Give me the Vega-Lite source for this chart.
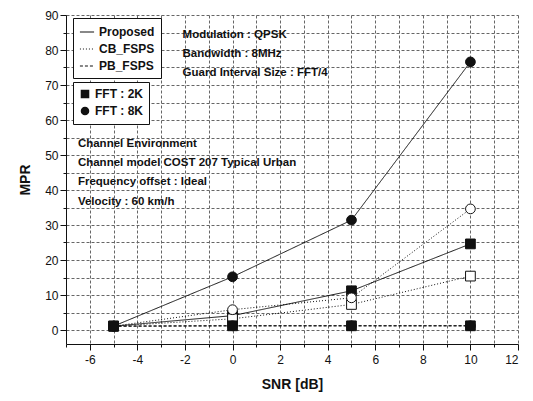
{
  "$schema": "https://vega.github.io/schema/vega-lite/v6.json",
  "width": 452,
  "height": 329,
  "autosize": "none",
  "padding": {"left": 66, "top": 15, "right": 15, "bottom": 57},
  "background": "white",
  "config": {
    "view": {"stroke": null},
    "font": "Liberation Sans",
    "axis": {"labelFont": "Liberation Sans", "titleFont": "Liberation Sans", "labelFontSize": 12, "titleFontSize": 14, "titleFontWeight": "bold", "labelColor": "#111", "titleColor": "#111", "domainColor": "#111", "tickColor": "#111"},
    "legend": {"labelFont": "Liberation Sans", "labelFontSize": 12, "labelFontWeight": "bold", "labelColor": "#111"}
  },
  "datasets": {
    "notes": [
      {"x": -2.1, "y": 84.3, "text": "Modulation : QPSK"},
      {"x": -2.1, "y": 78.9, "text": "Bandwidth : 8MHz"},
      {"x": -2.1, "y": 73.4, "text": "Guard Interval Size : FFT/4"},
      {"x": -6.5, "y": 53.1, "text": "Channel Environment"},
      {"x": -6.5, "y": 47.7, "text": "Channel model COST 207 Typical Urban"},
      {"x": -6.5, "y": 42.3, "text": "Frequency offset : Ideal"},
      {"x": -6.5, "y": 36.6, "text": "Velocity : 60 km/h"}
    ]
  },
  "data": {
    "values": [
      {"snr": -5, "mpr": 1.1, "method": "Proposed", "fft": "FFT : 2K", "series": "P2"},
      {"snr": 0, "mpr": 4.1, "method": "Proposed", "fft": "FFT : 2K", "series": "P2"},
      {"snr": 5, "mpr": 11.2, "method": "Proposed", "fft": "FFT : 2K", "series": "P2"},
      {"snr": 10, "mpr": 24.6, "method": "Proposed", "fft": "FFT : 2K", "series": "P2"},
      {"snr": -5, "mpr": 1.1, "method": "Proposed", "fft": "FFT : 8K", "series": "P8"},
      {"snr": 0, "mpr": 15.2, "method": "Proposed", "fft": "FFT : 8K", "series": "P8"},
      {"snr": 5, "mpr": 31.4, "method": "Proposed", "fft": "FFT : 8K", "series": "P8"},
      {"snr": 10, "mpr": 76.6, "method": "Proposed", "fft": "FFT : 8K", "series": "P8"},
      {"snr": -5, "mpr": 1.1, "method": "CB_FSPS", "fft": "FFT : 2K", "series": "C2"},
      {"snr": 0, "mpr": 3.2, "method": "CB_FSPS", "fft": "FFT : 2K", "series": "C2"},
      {"snr": 5, "mpr": 7.3, "method": "CB_FSPS", "fft": "FFT : 2K", "series": "C2"},
      {"snr": 10, "mpr": 15.4, "method": "CB_FSPS", "fft": "FFT : 2K", "series": "C2"},
      {"snr": -5, "mpr": 1.1, "method": "CB_FSPS", "fft": "FFT : 8K", "series": "C8"},
      {"snr": 0, "mpr": 5.8, "method": "CB_FSPS", "fft": "FFT : 8K", "series": "C8"},
      {"snr": 5, "mpr": 9.2, "method": "CB_FSPS", "fft": "FFT : 8K", "series": "C8"},
      {"snr": 10, "mpr": 34.6, "method": "CB_FSPS", "fft": "FFT : 8K", "series": "C8"},
      {"snr": -5, "mpr": 1.1, "method": "PB_FSPS", "fft": "FFT : 8K", "series": "B8"},
      {"snr": 0, "mpr": 1.2, "method": "PB_FSPS", "fft": "FFT : 8K", "series": "B8"},
      {"snr": 5, "mpr": 1.2, "method": "PB_FSPS", "fft": "FFT : 8K", "series": "B8"},
      {"snr": 10, "mpr": 1.2, "method": "PB_FSPS", "fft": "FFT : 8K", "series": "B8"},
      {"snr": -5, "mpr": 1.1, "method": "PB_FSPS", "fft": "FFT : 2K", "series": "B2"},
      {"snr": 0, "mpr": 1.2, "method": "PB_FSPS", "fft": "FFT : 2K", "series": "B2"},
      {"snr": 5, "mpr": 1.2, "method": "PB_FSPS", "fft": "FFT : 2K", "series": "B2"},
      {"snr": 10, "mpr": 1.2, "method": "PB_FSPS", "fft": "FFT : 2K", "series": "B2"}
    ]
  },
  "encoding": {
    "x": {
      "field": "snr", "type": "quantitative",
      "scale": {"domain": [-7, 12], "nice": false, "zero": false},
      "axis": {
        "title": "SNR [dB]", "titlePadding": 12, "grid": true, "gridColor": "#666", "gridDash": [3, 2], "gridWidth": 1, "gridOpacity": 1,
        "values": [-7,-6,-5,-4,-3,-2,-1,0,1,2,3,4,5,6,7,8,9,10,11,12],
        "labelExpr": "datum.value % 2 === 0 ? toString(datum.value) : ''",
        "tickSize": {"condition": {"test": "datum.value % 2 === 0", "value": 6}, "value": 3},
        "labelPadding": 4
      }
    },
    "y": {
      "field": "mpr", "type": "quantitative",
      "scale": {"domain": [-4, 90], "nice": false, "zero": false},
      "axis": {
        "title": "MPR", "titlePadding": 12, "grid": true, "gridColor": "#666", "gridDash": [3, 2], "gridWidth": 1, "gridOpacity": 1,
        "values": [0,5,10,15,20,25,30,35,40,45,50,55,60,65,70,75,80,85,90],
        "labelExpr": "datum.value % 10 === 0 ? toString(datum.value) : ''",
        "tickSize": {"condition": {"test": "datum.value % 10 === 0", "value": 6}, "value": 3}
      }
    }
  },
  "layer": [
    {
      "mark": {"type": "line", "color": "#111", "strokeWidth": 1},
      "encoding": {
        "detail": {"field": "series"},
        "strokeDash": {
          "field": "method", "type": "nominal",
          "scale": {"domain": ["Proposed", "CB_FSPS", "PB_FSPS"], "range": [[1, 0], [1, 2], [3, 2]]},
          "legend": {"title": null, "orient": "none", "legendX": 7, "legendY": 3, "symbolType": "stroke", "symbolStrokeColor": "#111", "symbolStrokeWidth": 1.2, "fillColor": "white", "strokeColor": "#111", "padding": 6, "symbolSize": 200, "rowPadding": 3}
        }
      }
    },
    {
      "mark": {"type": "point", "filled": true, "stroke": "#111", "strokeWidth": 1, "size": 95, "opacity": 1},
      "encoding": {
        "shape": {
          "field": "fft", "type": "nominal",
          "scale": {"domain": ["FFT : 2K", "FFT : 8K"], "range": ["square", "circle"]},
          "legend": {"title": null, "orient": "none", "legendX": 7, "legendY": 67, "fillColor": "white", "strokeColor": "#111", "padding": 6, "symbolFillColor": "#111", "symbolStrokeColor": "#111", "symbolSize": 50, "rowPadding": 3}
        },
        "fill": {
          "field": "method", "type": "nominal",
          "scale": {"domain": ["Proposed", "CB_FSPS", "PB_FSPS"], "range": ["#111", "white", "#111"]},
          "legend": null
        }
      }
    },
    {
      "data": {"name": "notes"},
      "mark": {"type": "text", "align": "left", "baseline": "middle", "fontWeight": "bold", "fontSize": 11.5, "color": "#111"},
      "encoding": {
        "x": {"field": "x", "type": "quantitative"},
        "y": {"field": "y", "type": "quantitative"},
        "text": {"field": "text"}
      }
    }
  ]
}
